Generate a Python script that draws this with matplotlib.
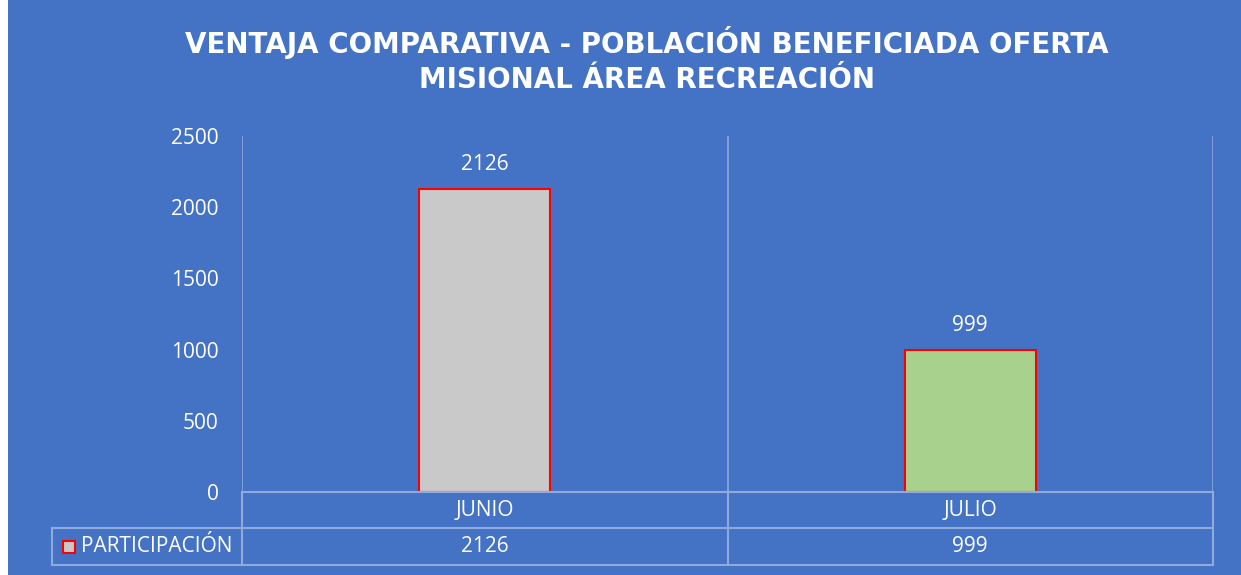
import matplotlib.pyplot as plt
from matplotlib.lines import Line2D
from matplotlib.patches import Rectangle

categories = ['JUNIO', 'JULIO']
values = [2126, 999]
bar_colors = ['#C9C9C9', '#A9D18E']
series_name = 'PARTICIPACIÓN'
yticks = [0, 500, 1000, 1500, 2000, 2500]
title = 'VENTAJA COMPARATIVA - POBLACIÓN BENEFICIADA OFERTA\nMISIONAL ÁREA RECREACIÓN'

bg = '#4472C4'
grid = '#8FAADC'
W, H = 1241, 575
fs = 15

plt.rcParams['font.family'] = ['Open Sans', 'DejaVu Sans']
fig = plt.figure(figsize=(W / 100, H / 100), dpi=100, facecolor=bg)

# plot area in pixels
x0, x1, ytop, ybot = 242, 1213, 136, 492
ax = fig.add_axes([x0 / W, 1 - ybot / H, (x1 - x0) / W, (ybot - ytop) / H])
ax.set_facecolor(bg)

pos = range(len(categories))
ax.bar(pos, values, width=0.27, color=bar_colors, edgecolor='#FF0000', linewidth=1.5, zorder=3)
for p, v in zip(pos, values):
    ax.annotate(str(v), (p, v), xytext=(0, 10), textcoords='offset points',
                ha='center', va='bottom', color='white', fontsize=fs)

ax.set_xlim(-0.5, len(categories) - 0.5)
ax.set_ylim(0, 2500)
ax.set_yticks(yticks)
ax.set_yticklabels([str(t) for t in yticks], color='white', fontsize=fs)
ax.tick_params(axis='y', length=0, pad=17)
ax.set_xticks([])
for s in ax.spines.values():
    s.set_visible(False)

# vertical separators between categories
for b in [-0.5 + i for i in range(len(categories) + 1)]:
    ax.axvline(b, color=grid, lw=1.2, zorder=1)

# data table below
def hline(y, xa, xb):
    fig.add_artist(Line2D([xa / W, xb / W], [1 - y / H, 1 - y / H], color=grid, lw=1.5))

def vline(x, ya, yb):
    fig.add_artist(Line2D([x / W, x / W], [1 - ya / H, 1 - yb / H], color=grid, lw=1.5))

r0, r1, r2 = 492, 528, 565
leg_x = 52
hline(r0, x0, x1)
hline(r1, leg_x, x1)
hline(r2, leg_x, x1)
vline(leg_x, r1, r2)
cat_w = (x1 - x0) / len(categories)
for i in range(len(categories) + 1):
    vline(x0 + i * cat_w, r0, r2)

for i, (c, v) in enumerate(zip(categories, values)):
    cx = (x0 + (i + 0.5) * cat_w) / W
    fig.text(cx, 1 - (r0 + r1) / 2 / H, c, ha='center', va='center', color='white', fontsize=fs)
    fig.text(cx, 1 - (r1 + r2) / 2 / H, str(v), ha='center', va='center', color='white', fontsize=fs)

fig.add_artist(Rectangle((63 / W, 1 - 553 / H), 12 / W, 12 / H, facecolor='#C9C9C9',
                         edgecolor='#FF0000', lw=1.5, transform=fig.transFigure))
fig.text(81 / W, 1 - (r1 + r2) / 2 / H, series_name, ha='left', va='center', color='white', fontsize=fs)

fig.text(647 / W, 1 - 60 / H, title, ha='center', va='center', color='white',
         fontsize=20, fontweight='bold', linespacing=1.3, family='DejaVu Sans')

# thin white border at left edge like the source screenshot
fig.add_artist(Rectangle((0, 0), 8 / W, 1, facecolor='white', edgecolor='none', transform=fig.transFigure))

fig.savefig('out.png', dpi=100, facecolor=bg)
